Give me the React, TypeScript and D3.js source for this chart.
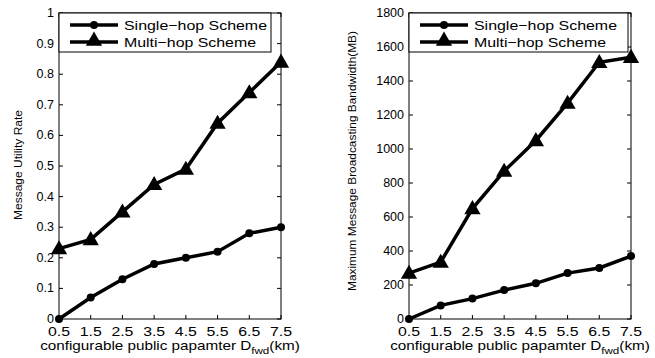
import React, { useRef, useEffect } from "react";
import * as d3 from "d3";

const xValues = [0.5, 1.5, 2.5, 3.5, 4.5, 5.5, 6.5, 7.5];
const utilSingle = [0, 0.07, 0.13, 0.18, 0.2, 0.22, 0.28, 0.3];
const utilMulti = [0.23, 0.26, 0.35, 0.44, 0.49, 0.64, 0.74, 0.84];
const bwSingle = [0, 80, 120, 170, 210, 270, 300, 370];
const bwMulti = [270, 335, 650, 870, 1050, 1270, 1510, 1540];
const utilTicks = [0, 0.1, 0.2, 0.3, 0.4, 0.5, 0.6, 0.7, 0.8, 0.9, 1];
const bwTicks = [0, 200, 400, 600, 800, 1000, 1200, 1400, 1600, 1800];
const legendLabels = ["Single\u2212hop Scheme", "Multi\u2212hop Scheme"];

const FONT = "Liberation Sans, Arial, Helvetica, sans-serif";

function drawPanel(svg: any, opts: any) {
  const { left, right, top, bottom, yMax, yTicks, single, multi, yLabel, yLabelX, yLabelY, yLabelLen, legendW } = opts;
  const x = d3.scaleLinear().domain([0.5, 7.5]).range([left, right]);
  const y = d3.scaleLinear().domain([0, yMax]).range([bottom, top]);
  const g = svg.append("g");

  g.append("rect").attr("x", left).attr("y", top).attr("width", right - left).attr("height", bottom - top)
    .attr("fill", "white").attr("stroke", "black").attr("stroke-width", 1);

  // inward ticks, all four sides
  const tl = 4;
  yTicks.forEach((t: number) => {
    g.append("line").attr("x1", left).attr("x2", left + tl).attr("y1", y(t)).attr("y2", y(t)).attr("stroke", "black");
    g.append("line").attr("x1", right).attr("x2", right - tl).attr("y1", y(t)).attr("y2", y(t)).attr("stroke", "black");
    g.append("text").attr("x", left - 5).attr("y", y(t) + 4).attr("text-anchor", "end")
      .attr("font-family", FONT).attr("font-size", 12.5).text(String(t));
  });
  xValues.forEach((t) => {
    g.append("line").attr("x1", x(t)).attr("x2", x(t)).attr("y1", bottom).attr("y2", bottom - tl).attr("stroke", "black");
    g.append("line").attr("x1", x(t)).attr("x2", x(t)).attr("y1", top).attr("y2", top + tl).attr("stroke", "black");
    g.append("text").attr("x", x(t)).attr("y", bottom + 17).attr("text-anchor", "middle")
      .attr("font-family", FONT).attr("font-size", 12)
      .attr("textLength", 22).attr("lengthAdjust", "spacingAndGlyphs").text(t.toFixed(1));
  });

  const ln = d3.line<number>().x((_, i) => x(xValues[i])).y((d) => y(d));
  g.append("path").attr("d", ln(single)).attr("fill", "none").attr("stroke", "black").attr("stroke-width", 3.5);
  g.append("path").attr("d", ln(multi)).attr("fill", "none").attr("stroke", "black").attr("stroke-width", 3.5);

  const tri = d3.symbol().type(d3.symbolTriangle).size(115);
  single.forEach((d: number, i: number) => {
    g.append("circle").attr("cx", x(xValues[i])).attr("cy", y(d)).attr("r", 4).attr("fill", "black");
  });
  multi.forEach((d: number, i: number) => {
    g.append("path").attr("d", tri()).attr("transform", `translate(${x(xValues[i])},${y(d) + 1})`).attr("fill", "black");
  });

  // legend
  const lg = g.append("g");
  lg.append("rect").attr("x", left).attr("y", top).attr("width", legendW).attr("height", 39)
    .attr("fill", "white").attr("stroke", "black");
  [0, 1].forEach((k) => {
    const ly = top + 12 + k * 17;
    lg.append("line").attr("x1", left + 11).attr("x2", left + 59).attr("y1", ly).attr("y2", ly)
      .attr("stroke", "black").attr("stroke-width", 3.5);
    if (k === 0) lg.append("circle").attr("cx", left + 35).attr("cy", ly).attr("r", 4).attr("fill", "black");
    else lg.append("path").attr("d", tri()).attr("transform", `translate(${left + 35},${ly - 1})`).attr("fill", "black");
    lg.append("text").attr("x", left + 65).attr("y", ly + 4.5).attr("font-family", FONT).attr("font-size", 13)
      .attr("textLength", k === 0 ? 143 : 132).attr("lengthAdjust", "spacingAndGlyphs")
      .text(legendLabels[k]);
  });

  // x label, stretched to the reference width
  const xl = g.append("text").attr("x", (left + right) / 2).attr("y", bottom + 31).attr("text-anchor", "middle")
    .attr("font-family", FONT).attr("font-size", 12.5);
  xl.append("tspan").text("configurable public papamter D");
  xl.append("tspan").attr("font-size", 9.5).attr("dy", 4).text("fwd");
  xl.append("tspan").attr("dy", -4).text("(km)");
  const natural = (xl.node() as SVGTextElement).getComputedTextLength();
  const cx = (left + right) / 2;
  xl.attr("transform", `translate(${cx},0) scale(${260 / natural},1) translate(${-cx},0)`);

  g.append("text").attr("transform", `translate(${yLabelX},${yLabelY}) rotate(-90)`)
    .attr("text-anchor", "middle").attr("font-family", FONT).attr("font-size", 11.5)
    .attr("textLength", yLabelLen).attr("lengthAdjust", "spacingAndGlyphs").text(yLabel);
}

const App = () => {
  const svgRef = useRef<SVGSVGElement>(null);

  useEffect(() => {
    const svg = d3.select(svgRef.current);
    svg.selectAll("*").remove();
    drawPanel(svg, {
      left: 59, right: 281, top: 13, bottom: 319, yMax: 1, yTicks: utilTicks,
      single: utilSingle, multi: utilMulti, yLabel: "Message Utility Rate",
      yLabelX: 22, yLabelY: 165, yLabelLen: 110, legendW: 212,
    });
    drawPanel(svg, {
      left: 409, right: 631, top: 13, bottom: 319, yMax: 1800, yTicks: bwTicks,
      single: bwSingle, multi: bwMulti, yLabel: "Maximum Message Broadcasting Bandwidth(MB)",
      yLabelX: 356, yLabelY: 161, yLabelLen: 260, legendW: 219,
    });
  }, []);

  return (
    <div style={{ position: "absolute", left: 0, top: 0 }}>
      <svg ref={svgRef} width={655} height={358} style={{ display: "block", background: "white" }}></svg>
    </div>
  );
};

export default App;
